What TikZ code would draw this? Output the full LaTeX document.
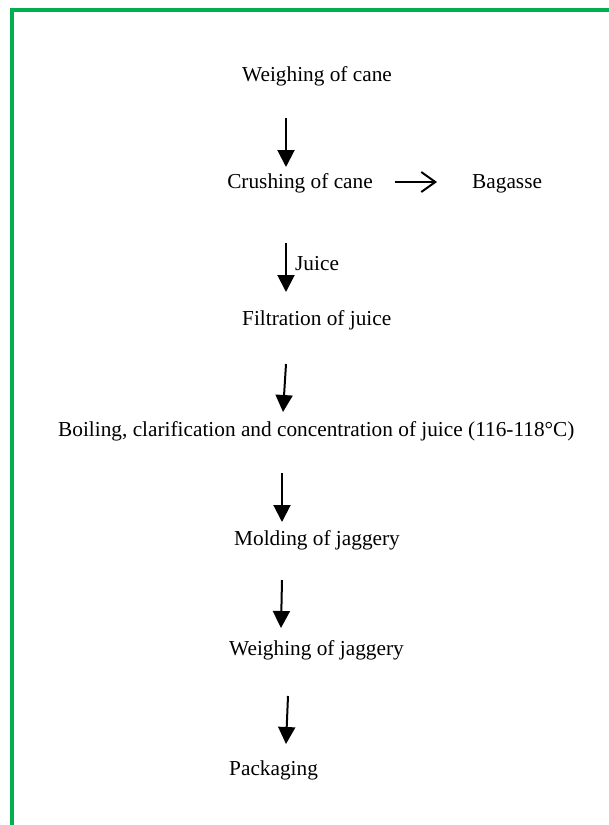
\documentclass[tikz,border=0pt]{standalone}
\usepackage{fontspec}
\setmainfont{Liberation Serif}
\usetikzlibrary{arrows.meta}
\definecolor{frame}{HTML}{00B050}
\begin{document}
\begin{tikzpicture}[x=1pt,y=-1pt,
  lbl/.style={anchor=base west,inner sep=0pt,font=\fontsize{21.3}{25}\selectfont},
  flow/.style={line width=2pt,-{Triangle[width=17pt,length=17pt]}},
  side/.style={line width=2pt,-{Straight Barb[width=20pt,length=14pt,line width=2pt]}}]
\useasboundingbox (0,0) rectangle (609,825);
\fill[white] (0,0) rectangle (609,825);
\draw[frame,line width=4pt] (12,825) -- (12,10) -- (609,10);
\node[lbl] (w1) at (242,81) {Weighing of cane};
\node[lbl,anchor=base east] (cr) at (373,188) {Crushing of cane};
\node[lbl] (bg) at (472,188) {Bagasse};
\node[lbl] (ju) at (295,270) {Juice};
\node[lbl] (fi) at (242,325) {Filtration of juice};
\node[lbl] (bo) at (58,436) {Boiling, clarification and concentration of juice (116-118\textdegree C)};
\node[lbl] (mo) at (234,545) {Molding of jaggery};
\node[lbl] (w2) at (229,655) {Weighing of jaggery};
\node[lbl] (pa) at (229,775) {Packaging};
\coordinate (a1s) at (286,118); \coordinate (a1e) at (286,167);
\coordinate (a2s) at (286,243); \coordinate (a2e) at (286,292);
\coordinate (a3s) at (286,364); \coordinate (a3e) at (283,412);
\coordinate (a4s) at (282,473); \coordinate (a4e) at (282,522);
\coordinate (a5s) at (282,580); \coordinate (a5e) at (281,628);
\coordinate (a6s) at (288,696); \coordinate (a6e) at (286,744);
\coordinate (bs) at (395,182); \coordinate (be) at (437,182);
\draw[flow] (a1s) -- (a1e);
\draw[flow] (a2s) -- (a2e);
\draw[flow] (a3s) -- (a3e);
\draw[flow] (a4s) -- (a4e);
\draw[flow] (a5s) -- (a5e);
\draw[flow] (a6s) -- (a6e);
\draw[side] (bs) -- (be);
\end{tikzpicture}
\end{document}
